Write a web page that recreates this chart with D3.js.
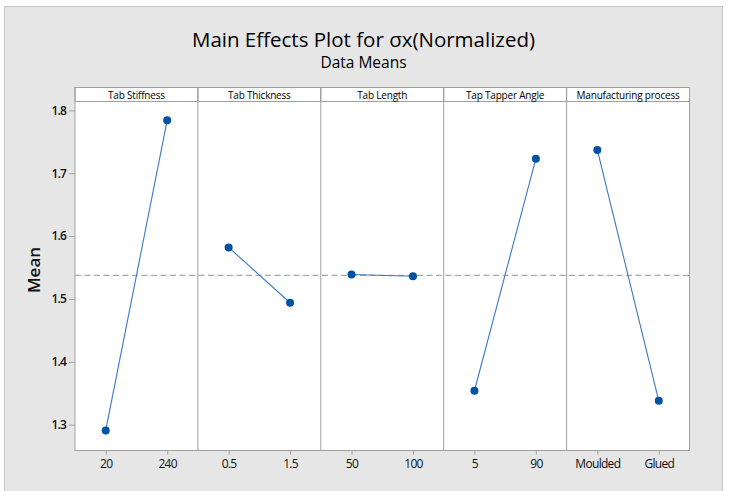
<!DOCTYPE html>
<html>
<head>
<meta charset="utf-8">
<script src="https://cdn.jsdelivr.net/npm/d3@7"></script>
<style>
  html, body { margin: 0; padding: 0; background: #ffffff; }
  svg { display: block; }
  text { font-family: "Open Sans", "Noto Sans", sans-serif; }
</style>
</head>
<body>
<svg id="chart" width="729" height="491"></svg>
<script>
// ---- data ----
const factors = ["Tab Stiffness", "Tab Thickness", "Tab Length", "Tap Tapper Angle", "Manufacturing process"];
const levels = [["20", "240"], ["0.5", "1.5"], ["50", "100"], ["5", "90"], ["Moulded", "Glued"]];
const means = [[1.291, 1.784], [1.582, 1.494], [1.539, 1.536], [1.354, 1.723], [1.737, 1.338]];
const yTicks = [1.3, 1.4, 1.5, 1.6, 1.7, 1.8];
const overallMean = 1.5375;
const titleText = "Main Effects Plot for σx(Normalized)";
const subtitleText = "Data Means";
const yLabel = "Mean";

// ---- layout ----
const W = 729, H = 491;
const plotL = 75, plotR = 689.5, headTop = 87.5, headBot = 101.5, plotBot = 450.5;
const svg = d3.select("#chart");

svg.append("rect").attr("x", 4.5).attr("y", 6.5).attr("width", 718).attr("height", H)
  .attr("fill", "#e6e6e6").attr("stroke", "#c8c8c8").attr("stroke-width", 1);

const y = d3.scaleLinear().domain([1.259, 1.814]).range([plotBot, headBot]);
const band = d3.scaleBand().domain(factors).range([plotL, plotR]);

// title
const cx = 363.5;
const t = svg.append("text").attr("x", cx).attr("y", 46.5).attr("text-anchor", "middle")
  .attr("font-size", 20.5).attr("font-weight", 500).attr("fill", "#000").text(titleText);
const tl = t.node().getComputedTextLength();
if (tl > 348) t.attr("textLength", 348).attr("lengthAdjust", "spacingAndGlyphs");
const st = svg.append("text").attr("x", cx).attr("y", 68).attr("text-anchor", "middle")
  .attr("font-size", 15.5).attr("font-weight", 500).attr("fill", "#000").text(subtitleText);
const stl = st.node().getComputedTextLength();
if (stl > 89) st.attr("textLength", 89).attr("lengthAdjust", "spacingAndGlyphs");

// plot background
svg.append("rect").attr("x", plotL).attr("y", headTop).attr("width", plotR - plotL).attr("height", plotBot - headTop)
  .attr("fill", "#ffffff");

// y axis
const yAxis = d3.axisLeft(y).tickValues(yTicks).tickFormat(d3.format(".1f")).tickSizeOuter(0).tickSize(6).tickPadding(3);
const gy = svg.append("g").attr("transform", `translate(${plotL},0)`).call(yAxis);
gy.select(".domain").remove();
gy.selectAll(".tick line").attr("stroke", "#a0a0a0");
gy.selectAll(".tick text").attr("font-size", 12).attr("fill", "#111").attr("font-weight", 600)
  .attr("font-family", "'Open Sans', sans-serif").attr("letter-spacing", -0.8);

svg.append("text").attr("transform", `translate(40,270) rotate(-90)`).attr("text-anchor", "middle")
  .attr("font-size", 17).attr("font-weight", 600).attr("fill", "#111").text(yLabel);

// reference line
svg.append("line").attr("x1", plotL).attr("x2", plotR).attr("y1", y(overallMean)).attr("y2", y(overallMean))
  .attr("stroke", "#a8a8a8").attr("stroke-width", 1.4).attr("stroke-dasharray", "6,3.5");

// panels
factors.forEach((f, i) => {
  const x0 = band(f), bw = band.bandwidth();
  const xs = d3.scalePoint().domain(levels[i]).range([x0, x0 + bw]).padding(0.5);
  const g = svg.append("g");
  // header
  g.append("rect").attr("x", x0).attr("y", headTop).attr("width", bw).attr("height", headBot - headTop)
    .attr("fill", "#ffffff").attr("stroke", "#a0a0a0").attr("stroke-width", 1);
  g.append("text").attr("x", x0 + bw / 2).attr("y", 98.5).attr("text-anchor", "middle")
    .attr("font-size", 10).attr("font-weight", 500).attr("fill", "#000").attr("letter-spacing", -0.2).text(f);
  // x axis
  const xAxis = d3.axisBottom(xs).tickSize(4).tickPadding(5).tickSizeOuter(0);
  const gx = g.append("g").attr("transform", `translate(0,${plotBot})`).call(xAxis);
  gx.select(".domain").remove();
  gx.selectAll(".tick line").attr("stroke", "#a0a0a0");
  gx.selectAll(".tick text").attr("font-size", 12).attr("fill", "#111").attr("font-weight", 500)
    .attr("font-family", "'Open Sans', sans-serif").attr("letter-spacing", -0.7);
  // line and points
  const pts = levels[i].map((l, j) => [xs(l), y(means[i][j])]);
  g.append("path").attr("d", d3.line()(pts)).attr("fill", "none")
    .attr("stroke", "#3a78c4").attr("stroke-width", 1.1);
  g.selectAll("circle").data(pts).join("circle")
    .attr("cx", d => d[0]).attr("cy", d => d[1]).attr("r", 4).attr("fill", "#0052a3");
});

// panel borders
svg.append("rect").attr("x", plotL).attr("y", headTop).attr("width", plotR - plotL).attr("height", plotBot - headTop)
  .attr("fill", "none").attr("stroke", "#a0a0a0").attr("stroke-width", 1);
factors.slice(1).forEach(f => {
  svg.append("line").attr("x1", band(f)).attr("x2", band(f)).attr("y1", headTop).attr("y2", plotBot)
    .attr("stroke", "#a0a0a0").attr("stroke-width", 1);
});
</script>
</body>
</html>
